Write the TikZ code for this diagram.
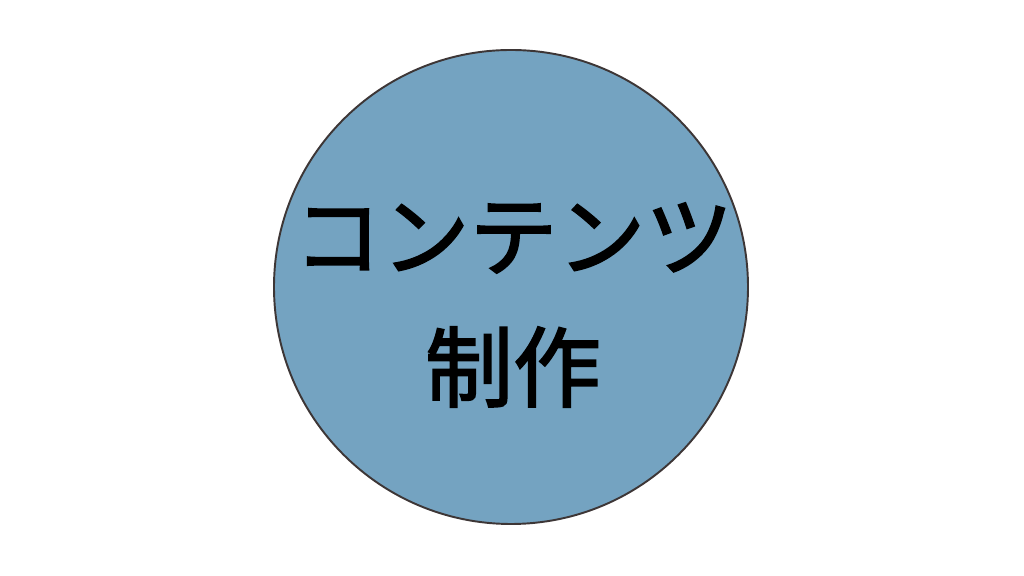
\documentclass[tikz,border=0pt]{standalone}
\usepackage{fontspec}
\newfontfamily\jpfont[UprightFeatures={FakeBold=2}]{Noto Sans CJK JP}
\usepackage{xcolor}
\definecolor{discblue}{RGB}{116,163,193}
\definecolor{discline}{RGB}{61,54,54}

\begin{document}
\begin{tikzpicture}
			\useasboundingbox (0,0) rectangle (20.48,11.52);

			\node (disc) [circle, fill=discblue, draw=discline, line width=1.1pt,
				minimum size=9.48cm, inner sep=0pt] at (10.22, 5.78) {};

			\node (line1) at (10.27, 6.76) {\jpfont\fontsize{50pt}{60pt}\selectfont コンテンツ};
			\node (line2) at (10.26, 4.18) {\jpfont\fontsize{50pt}{60pt}\selectfont 制作};
		\end{tikzpicture}
\end{document}
